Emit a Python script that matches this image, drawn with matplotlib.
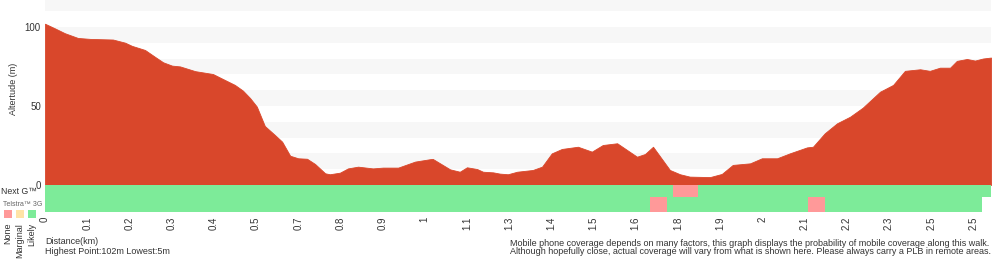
import numpy as np
import matplotlib
matplotlib.use('Agg')
import matplotlib.pyplot as plt
from matplotlib.patches import Rectangle

plt.rcParams['font.family'] = ['Liberation Sans', 'DejaVu Sans']

# altitude profile (km, m)
dist_km = [0, 0.024, 0.047, 0.078, 0.107, 0.161, 0.190, 0.206, 0.237, 0.261,
           0.280, 0.301, 0.320, 0.356, 0.398, 0.422, 0.450, 0.469, 0.486, 0.502,
           0.521, 0.545, 0.562, 0.581, 0.600, 0.621, 0.640, 0.664, 0.675, 0.699,
           0.718, 0.742, 0.777, 0.801, 0.837, 0.877, 0.912, 0.919, 0.960, 0.983,
           1.000, 1.024, 1.038, 1.062, 1.078, 1.097, 1.119, 1.156, 1.178, 1.201,
           1.225, 1.263, 1.296, 1.322, 1.356, 1.403, 1.422, 1.441, 1.481, 1.505,
           1.528, 1.576, 1.604, 1.630, 1.671, 1.699, 1.735, 1.765, 1.806, 1.820,
           1.848, 1.877, 1.908, 1.938, 1.979, 2.010, 2.038, 2.074, 2.097, 2.121,
           2.145, 2.161, 2.185, 2.204, 2.223, 2.242]
altitude = [102, 99, 96, 93, 92.4, 92, 90, 88, 85.4, 81,
            77.6, 75.5, 75, 72, 70.2, 67, 63.3, 59.7, 55, 49.6,
            37.3, 31.6, 27.4, 18.5, 16.9, 16.6, 13.3, 7.4, 6.8, 7.8,
            10.5, 11.6, 10.5, 11, 11, 14.8, 16.3, 16.5, 9.9, 8.4,
            11.2, 10.1, 8.4, 8, 7.2, 6.8, 8.4, 9.5, 11.6, 20,
            22.8, 24.2, 21.1, 25.3, 26.4, 17.9, 19.6, 24.2, 9.5, 6.8,
            5.3, 5, 7, 12.7, 13.7, 16.9, 16.9, 20, 23.8, 24.2,
            32.7, 39, 43.2, 48.9, 59, 63.3, 72.2, 73.2, 72.2, 74.2,
            74.2, 78.5, 79.7, 78.7, 80, 80.6]

# x tick labels as shown (rounded distances)
tick_labels = ['0', '0.1', '0.2', '0.3', '0.4', '0.5', '0.7', '0.8', '0.9', '1',
               '1.1', '1.3', '1.4', '1.5', '1.6', '1.8', '1.9', '2', '2.1', '2.2',
               '2.3', '2.5', '2.5']

# coverage: segments (start km, end km) ; everything else Likely
nextg_none = [(1.488, 1.547)]
g3_none = [(1.434, 1.474), (1.808, 1.848)]
g3_nodata = [(2.220, 2.242)]

x_end = 2.242

RED = '#d9472b'
GREEN = '#7deb99'
PINK = '#ff9999'
YELLOW = '#ffe3a6'
BAND = '#f7f7f7'
TXT = '#333333'

W, H = 1000, 260
fig = plt.figure(figsize=(W / 100, H / 100), dpi=100)


def fx(x):
    return x / W


def fy(y):
    return 1 - y / H


# main altitude axes
ax = fig.add_axes([fx(45), fy(185), fx(991) - fx(45), fy(0) - fy(185)])
ax.set_xlim(0, x_end)
ax.set_ylim(0, 117)
for b in range(10, 120, 20):
    ax.axhspan(b, b + 10, color=BAND, lw=0, zorder=0)
ax.fill_between(dist_km, altitude, 0, color=RED, lw=0.6, edgecolor=RED, zorder=2)
ax.set_yticks([0, 50, 100])
ax.set_xticks([])
ax.tick_params(axis='y', length=0, labelsize=7, labelcolor=TXT, pad=3)
for s in ax.spines.values():
    s.set_visible(False)
ax.set_ylabel('Altertude (m)', fontsize=6.5, color=TXT)
ax.yaxis.set_label_coords(-0.029, 0.52)

# coverage axes
cax = fig.add_axes([fx(45), fy(212), fx(991) - fx(45), fy(185) - fy(212)])
cax.set_xlim(0, x_end)
cax.set_ylim(0, 2)
cax.axhspan(0, 2, color=GREEN, lw=0, zorder=0)
for a, b in nextg_none:
    cax.add_patch(Rectangle((a, 1.1), b - a, 0.9, color=PINK, lw=0, zorder=1))
for a, b in g3_none:
    cax.add_patch(Rectangle((a, 0), b - a, 1.1, color=PINK, lw=0, zorder=1))
for a, b in g3_nodata:
    cax.add_patch(Rectangle((a, 0), b - a, 1.1, color='white', lw=0, zorder=1))
for s in cax.spines.values():
    s.set_visible(False)
cax.set_yticks([])
cax.set_xticks(np.arange(len(tick_labels)) * 0.1)
cax.set_xticklabels(tick_labels, rotation=90, fontsize=7, color=TXT)
cax.tick_params(axis='x', length=0, pad=3)

# legend bits on the left
fig.text(fx(1), fy(192), 'Next G\u2122', fontsize=6.3, color=TXT, ha='left', va='center')
fig.text(fx(3), fy(204), 'Telstra\u2122 3G', fontsize=5, color='#666666', ha='left', va='center')
for x0, c, lab in [(4, PINK, 'None'), (16, YELLOW, 'Marginal'), (28, GREEN, 'Likely')]:
    fig.patches.append(Rectangle((fx(x0), fy(218)), fx(8), fy(210) - fy(218),
                                 transform=fig.transFigure, color=c, lw=0))
    fig.text(fx(x0 + 4), fy(223), lab, fontsize=6.5, color=TXT, rotation=90,
             ha='center', va='top')

# footer text
fig.text(fx(45), fy(242), 'Distance(km)', fontsize=6.5, color=TXT, ha='left', va='center')
fig.text(fx(45), fy(252), 'Highest Point:102m Lowest:5m', fontsize=6.5, color=TXT,
         ha='left', va='center')
fig.text(fx(510), fy(243), 'Mobile phone coverage depends on many factors, this graph displays '
         'the probability of mobile coverage along this walk.', fontsize=6.5, color=TXT,
         ha='left', va='center')
fig.text(fx(510), fy(252), 'Although hopefully close, actual coverage will vary from what is '
         'shown here. Please always carry a PLB in remote areas.', fontsize=6.5, color=TXT,
         ha='left', va='center')

fig.savefig('out.png', dpi=100)
